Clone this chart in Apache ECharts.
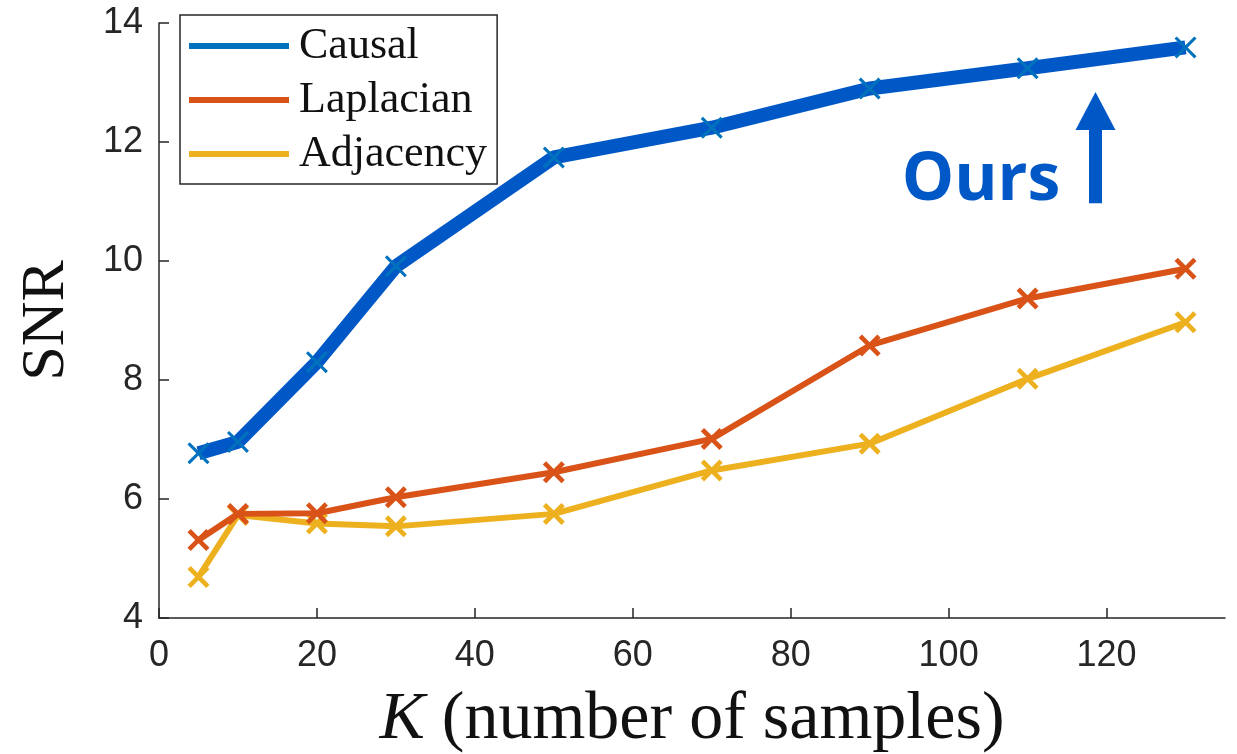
<!DOCTYPE html>
<html>
<head>
<meta charset="utf-8">
<script src="https://cdn.jsdelivr.net/npm/echarts@6/dist/echarts.min.js"></script>
<style>
html,body{margin:0;padding:0;background:#fff;}
#c{width:1237px;height:754px;}
</style>
</head>
<body>
<div id="c"></div>
<script>
var kValues = [5, 10, 20, 30, 50, 70, 90, 110, 130];
var causal = [6.77, 6.96, 8.30, 9.91, 11.74, 12.24, 12.90, 13.24, 13.59];
var laplacian = [5.31, 5.75, 5.76, 6.03, 6.45, 7.01, 8.58, 9.37, 9.87];
var adjacency = [4.69, 5.73, 5.59, 5.54, 5.75, 6.48, 6.93, 8.02, 8.97];
var seriesNames = ['Causal', 'Laplacian', 'Adjacency'];
var annotationText = 'Ours';

function pairs(ys){ return kValues.map(function(k,i){ return [k, ys[i]]; }); }

var xThick = 'path://M0,1.5L1.5,0L5,3.5L8.5,0L10,1.5L6.5,5L10,8.5L8.5,10L5,6.5L1.5,10L0,8.5L3.5,5Z';
var xThin = 'path://M0,1L1,0L5,4L9,0L10,1L6,5L10,9L9,10L5,6L1,10L0,9L4,5Z';
var axisColor = '#262626';

var chart = echarts.init(document.getElementById('c'));
chart.setOption({
  animation: false,
  backgroundColor: '#fff',
  grid: { left: 159, right: 12, top: 23, bottom: 136, containLabel: false, outerBoundsMode: 'none' },
  xAxis: {
    type: 'value', min: 0, max: 135, interval: 20,
    axisLine: { show: true, lineStyle: { color: axisColor, width: 1.5 } },
    axisTick: { show: true, inside: true, length: 10, lineStyle: { color: axisColor, width: 1.5 } },
    axisLabel: { color: axisColor, fontSize: 36, fontFamily: 'Liberation Sans', margin: 20, showMaxLabel: false },
    splitLine: { show: false },
    name: '{i|K} (number of samples)',
    nameLocation: 'middle', nameGap: 68,
    nameTextStyle: {
      color: '#111', fontSize: 68, fontFamily: 'Liberation Serif',
      rich: { i: { fontStyle: 'italic', fontSize: 68, fontFamily: 'Liberation Serif', color: '#111' } }
    }
  },
  yAxis: {
    type: 'value', min: 4, max: 14, interval: 2,
    axisLine: { show: true, lineStyle: { color: axisColor, width: 1.5 } },
    axisTick: { show: true, inside: true, length: 10, lineStyle: { color: axisColor, width: 1.5 } },
    axisLabel: { color: axisColor, fontSize: 36, fontFamily: 'Liberation Sans', margin: 16 },
    splitLine: { show: false },
    name: 'SNR', nameLocation: 'middle', nameGap: 81,
    nameTextStyle: { color: '#111', fontSize: 62, fontFamily: 'Liberation Serif' }
  },
  legend: {
    orient: 'vertical', left: 180, top: 15,
    padding: [9, 10, 8, 9], itemGap: 10,
    itemWidth: 100, itemHeight: 6,
    backgroundColor: '#fff', borderColor: axisColor, borderWidth: 1.5,
    textStyle: { color: '#111', fontSize: 44, fontFamily: 'Liberation Serif', padding: [0,0,0,5] },
    data: [
      { name: seriesNames[0], icon: 'rect', itemStyle: { color: '#0072BD' } },
      { name: seriesNames[1], icon: 'rect', itemStyle: { color: '#D95319' } },
      { name: seriesNames[2], icon: 'rect', itemStyle: { color: '#EDB120' } }
    ]
  },
  series: [
    {
      name: seriesNames[2], type: 'line', data: pairs(adjacency),
      lineStyle: { color: '#EDB120', width: 6 },
      symbol: xThick, symbolSize: 22,
      itemStyle: { color: '#EDB120' }, z: 2
    },
    {
      name: seriesNames[1], type: 'line', data: pairs(laplacian),
      lineStyle: { color: '#D95319', width: 6 },
      symbol: xThick, symbolSize: 22,
      itemStyle: { color: '#D95319' }, z: 3
    },
    {
      name: seriesNames[0], type: 'line', data: pairs(causal),
      lineStyle: { color: '#0058C6', width: 14 },
      symbol: xThin, symbolSize: 22,
      itemStyle: { color: '#0072BD' }, z: 4,
      markLine: {
        silent: true, animation: false,
        lineStyle: { color: '#0058C6', width: 13, type: 'solid' },
        label: { show: false },
        symbolSize: [40, 38],
        data: [[
          { coord: [118.6, 10.97], symbol: 'none' },
          { coord: [118.6, 12.52], symbol: 'triangle' }
        ]]
      },
      markPoint: {
        silent: true, symbol: 'circle', symbolSize: 0,
        label: { show: true, formatter: annotationText, color: '#0058C6', fontSize: 66,
                 fontWeight: 'bold', fontFamily: 'Open Sans', position: 'inside' },
        data: [{ coord: [104.1, 11.34] }]
      }
    }
  ]
});
</script>
</body>
</html>
